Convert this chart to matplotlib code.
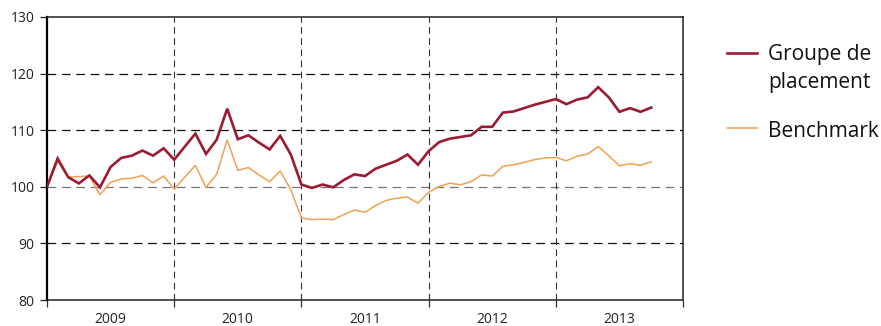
import numpy as np
import matplotlib
matplotlib.use("Agg")
import matplotlib.pyplot as plt
from matplotlib.lines import Line2D
from matplotlib.ticker import FixedLocator, NullFormatter, FixedFormatter

# Monthly index values, January 2009 = 100
groupe = [100, 105.0, 101.7, 100.6, 102.0, 99.9, 103.5, 105.1, 105.5, 106.4, 105.5, 106.8,
          104.8, 107.1, 109.4, 105.8, 108.3, 113.8, 108.4, 109.1, 107.8, 106.6, 109.0, 105.7,
          100.4, 99.8, 100.4, 99.9, 101.2, 102.2, 101.9, 103.2, 103.9, 104.6, 105.7, 103.9,
          106.3, 107.9, 108.5, 108.8, 109.1, 110.6, 110.6, 113.1, 113.3, 113.9, 114.5, 115.0,
          115.5, 114.6, 115.4, 115.8, 117.6, 115.8, 113.25, 113.9, 113.25, 114.0]
benchmark = [100, 104.5, 101.7, 101.8, 101.9, 98.6, 100.8, 101.4, 101.5, 102.0, 100.7, 101.9,
             99.6, 101.7, 103.8, 99.9, 102.2, 108.3, 102.9, 103.4, 102.1, 100.9, 102.8, 99.5,
             94.5, 94.2, 94.3, 94.2, 95.1, 95.9, 95.5, 96.7, 97.6, 98.0, 98.2, 97.1,
             99.0, 100.05, 100.65, 100.35, 100.9, 102.1, 101.9, 103.6, 103.9, 104.3, 104.8, 105.1,
             105.2, 104.6, 105.4, 105.8, 107.1, 105.5, 103.7, 104.1, 103.8, 104.4]
years = ["2009", "2010", "2011", "2012", "2013"]
y_ticks = [80, 90, 100, 110, 120, 130]
series_labels = ["Groupe de\nplacement", "Benchmark"]

RED = "#9b1b32"
ORANGE = "#efa154"

plt.rcParams["font.family"] = ["Open Sans", "DejaVu Sans"]

fig = plt.figure(figsize=(8.81, 3.26), dpi=100)
ax = fig.add_axes([47 / 881, 1 - 300 / 326, (683 - 47) / 881, (300 - 17) / 326])

months = np.arange(len(groupe))
ax.plot(months, benchmark, color=ORANGE, lw=1.1, zorder=3, solid_joinstyle="miter")
ax.plot(months, groupe, color=RED, lw=1.9, zorder=4, solid_joinstyle="miter")

n_years = len(years)
ax.set_xlim(0, 12 * n_years)
ax.set_ylim(y_ticks[0], y_ticks[-1])

# horizontal dashed gridlines
for v in y_ticks[1:-1]:
    ax.axhline(v, color="#777777" if v == 100 else "#111111", lw=0.9,
               dashes=(7, 4.5), zorder=1)
# year separators
for k in range(1, n_years):
    ax.axvline(12 * k, color="#333333", lw=0.8, dashes=(6, 4), zorder=1)

ax.yaxis.set_major_locator(FixedLocator(y_ticks))
ax.tick_params(axis="y", length=5, width=0.9, pad=4, labelsize=10, colors="#222222")

ax.xaxis.set_major_locator(FixedLocator([12 * k for k in range(n_years + 1)]))
ax.xaxis.set_major_formatter(NullFormatter())
ax.xaxis.set_minor_locator(FixedLocator([12 * k + 6 for k in range(n_years)]))
ax.xaxis.set_minor_formatter(FixedFormatter(years))
ax.tick_params(axis="x", which="major", length=5, width=0.9, color="#333333")
ax.tick_params(axis="x", which="minor", length=0, pad=8.5, labelsize=10, labelcolor="#222222")

ax.spines["left"].set_linewidth(1.6)
ax.spines["left"].set_color("black")
for s in ("top", "right", "bottom"):
    ax.spines[s].set_linewidth(1.1)
    ax.spines[s].set_color("#222222")

# legend drawn beside the plot
W, H = 881, 326
def fx(px):
    return px / W
def fy(py):
    return 1 - py / H

fig.add_artist(Line2D([fx(727), fx(757)], [fy(52.7), fy(52.7)], color=RED, lw=1.9,
                      transform=fig.transFigure))
fig.add_artist(Line2D([fx(727), fx(757)], [fy(127.7), fy(127.7)], color=ORANGE, lw=1.1,
                      transform=fig.transFigure))
first, second = series_labels[0].split("\n")
fig.text(fx(768), fy(60), first, fontsize=15, color="#111111", va="baseline", ha="left")
fig.text(fx(768), fy(88.3), second, fontsize=15, color="#111111", va="baseline", ha="left")
fig.text(fx(768), fy(137), series_labels[1], fontsize=15, color="#111111", va="baseline", ha="left")

fig.savefig("out.png", dpi=100)
